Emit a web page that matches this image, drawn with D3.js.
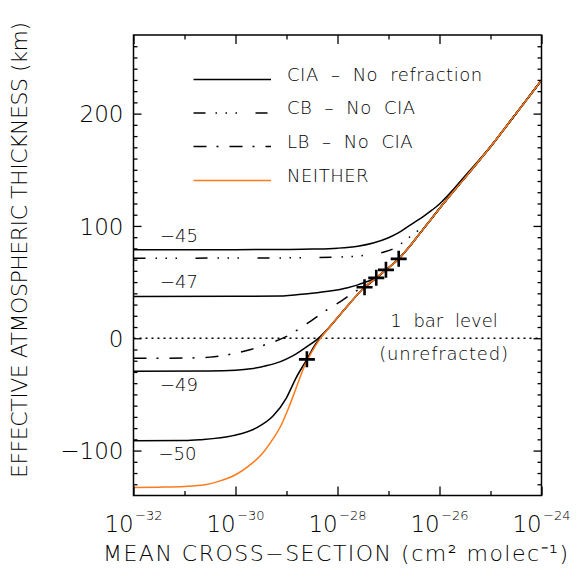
<!DOCTYPE html>
<html>
<head>
<meta charset="utf-8">
<script src="https://cdn.jsdelivr.net/npm/d3@7"></script>
<style>
    body { margin: 0; background: #fff; }
    svg { display: block; font-family: "DejaVu Sans", sans-serif; font-weight: 200; }
</style>
</head>
<body>
<svg id="chart" width="584" height="569"></svg>
<script>
// x values are log10 of the cross-section, y values in km
const NEITHER = [
    [-32, -132.8], [-31.5, -132.6], [-31, -132], [-30.6, -130.5], [-30.3, -127],
    [-30, -121.5], [-29.75, -114], [-29.5, -104], [-29.3, -92], [-29.1, -77],
    [-28.95, -61], [-28.8, -43], [-28.65, -25], [-28.5, -12], [-28.35, -1],
    [-28.2, 7.5], [-27.8, 29], [-27.47, 45.4], [-27.24, 53.8], [-27.05, 60.9],
    [-26.8, 70.7], [-26.6, 81], [-26.4, 92.5], [-26.2, 104], [-26, 115.5],
    [-25.5, 143], [-25, 170.5], [-24.5, 200], [-24, 229.7]
];

// CIA - no refraction, one curve per label
const CIA_45 = [
    [-32, 78.8], [-30, 78.9], [-29, 79.1], [-28.5, 79.4], [-28, 80.2], [-27.6, 82],
    [-27.3, 84.8], [-27, 89.5], [-26.8, 94], [-26.65, 98.5], [-26.5, 103], [-26.3, 109],
    [-26.15, 114], [-26, 119.5], [-25.85, 126.5], [-25.7, 134], [-25.5, 144.5]
];
const CIA_47 = [
    [-32, 37.2], [-30, 37.3], [-29.1, 37.6], [-28.8, 38.8], [-28.5, 40], [-28.15, 42],
    [-27.8, 45], [-27.6, 47.5], [-27.45, 50], [-27.3, 52.5]
];
const CIA_49 = [
    [-32, -29.4], [-30.5, -29.2], [-30, -28.5], [-29.7, -27.2], [-29.4, -24.5],
    [-29.13, -21], [-28.87, -15.5], [-28.6, -7.5], [-28.4, -1], [-28.25, 5.5]
];
const CIA_50 = [
    [-32, -91.2], [-31, -91], [-30.7, -90.3], [-30.05, -86.7], [-29.6, -80],
    [-29.26, -69], [-29, -53], [-28.81, -35], [-28.6, -18.8], [-28.45, -6.5], [-28.35, -0.5]
];

const CB_NOCIA = [
    [-32, 71.3], [-30, 71.4], [-29, 71.6], [-28.5, 71.9], [-28, 72.3], [-27.5, 73.6],
    [-27.1, 76.6], [-26.85, 81], [-26.65, 88], [-26.5, 93], [-26.35, 98.5], [-26.2, 104.5]
];
const LB_NOCIA = [
    [-32, -17.8], [-31, -17.6], [-30.5, -16.8], [-30.1, -14.3], [-29.7, -10],
    [-29.4, -5.5], [-29.05, 0.5], [-28.6, 13], [-28.2, 25.5], [-27.9, 34],
    [-27.6, 43], [-27.47, 45.4]
];

const MARKER_X = [-28.6, -27.47, -27.24, -27.05, -26.8];
const MARKER_Y = [-18.8, 45.4, 53.8, 60.9, 70.7];

const CURVE_LABELS = ["\u221245", "\u221247", "\u221249", "\u221250"];
const LEGEND_LABELS = ["CIA \u2013 No refraction", "CB \u2013 No CIA", "LB \u2013 No CIA", "NEITHER"];

const X_MAJOR = [-32, -30, -28, -26, -24];
const X_MINOR = [-31, -29, -27, -25];
const Y_MAJOR = [-100, 0, 100, 200];

const ORANGE = "#ff7a1a";
const DASH_CB = "12,10,1.5,8.5,1.5,8.5,1.5,18.5";
const DASH_LB = "13,10,2,11";

// layout
const plot = { left: 133.5, right: 541.5, top: 35, bottom: 495.5 };

const svg = d3.select("#chart");

const x = d3.scaleLog().domain([1e-32, 1e-24]).range([plot.left, plot.right]);
const y = d3.scaleLinear().domain([-140, 270]).range([plot.bottom, plot.top]);

// black curves continue under the orange one once they have joined it
function withTail(pts) {
    const last = pts[pts.length - 1][0];
    return pts.concat(NEITHER.filter(p => p[0] > last + 0.05));
}

const line = d3.line()
    .x(d => x(10 ** d[0]))
    .y(d => y(d[1]))
    .curve(d3.curveMonotoneX);

// 1 bar reference line
svg.append("line")
    .attr("x1", plot.left).attr("x2", plot.right)
    .attr("y1", y(0)).attr("y2", y(0))
    .attr("stroke", "#000").attr("stroke-width", 1.3)
    .attr("stroke-dasharray", "2,4");

const curves = svg.append("g").attr("fill", "none").attr("stroke-linejoin", "round");

[
    { pts: withTail(CB_NOCIA), dash: DASH_CB },
    { pts: withTail(LB_NOCIA), dash: DASH_LB },
    { pts: withTail(CIA_45), dash: null },
    { pts: withTail(CIA_47), dash: null },
    { pts: withTail(CIA_49), dash: null },
    { pts: withTail(CIA_50), dash: null }
].forEach(s => {
    curves.append("path")
        .attr("d", line(s.pts))
        .attr("stroke", "#000")
        .attr("stroke-width", 1.5)
        .attr("stroke-dasharray", s.dash);
});

curves.append("path")
    .attr("d", line(NEITHER))
    .attr("stroke", ORANGE)
    .attr("stroke-width", 1.5);

// plus markers
svg.append("g").selectAll("path")
    .data(MARKER_X.map((m, i) => [m, MARKER_Y[i]]))
    .join("path")
    .attr("transform", d => `translate(${x(10 ** d[0])},${y(d[1])})`)
    .attr("d", "M-8,0H8M0,-8V8")
    .attr("stroke", "#000")
    .attr("stroke-width", 2.6)
    .attr("fill", "none");

// curve labels
const labelPos = [[160, 241.7], [160, 288.3], [160, 390.5], [158.5, 460]];
svg.append("g").selectAll("text")
    .data(CURVE_LABELS)
    .join("text")
    .attr("x", (d, i) => labelPos[i][0])
    .attr("y", (d, i) => labelPos[i][1])
    .attr("font-size", 18)
    .text(d => d);

svg.append("text")
    .attr("x", 444).attr("y", 327.3)
    .attr("text-anchor", "middle")
    .attr("font-size", 18)
    .attr("word-spacing", 6)
    .text("1 bar level");
svg.append("text")
    .attr("x", 444).attr("y", 359.5)
    .attr("text-anchor", "middle")
    .attr("font-size", 18)
    .attr("letter-spacing", 0.8)
    .text("(unrefracted)");

// legend
const legendY = [79.5, 113, 146.5, 180.5];
const legendStyle = [
    { dash: null, color: "#000" },
    { dash: DASH_CB, color: "#000" },
    { dash: DASH_LB, color: "#000" },
    { dash: null, color: ORANGE }
];
const legend = svg.append("g");
LEGEND_LABELS.forEach((lab, i) => {
    legend.append("line")
        .attr("x1", 193.5).attr("x2", 271)
        .attr("y1", legendY[i]).attr("y2", legendY[i])
        .attr("stroke", legendStyle[i].color)
        .attr("stroke-width", 1.5)
        .attr("stroke-dasharray", legendStyle[i].dash);
    legend.append("text")
        .attr("x", 287).attr("y", legendY[i] + 1)
        .attr("font-size", 18)
        .attr("word-spacing", 6)
        .attr("letter-spacing", 0.5)
        .text(lab);
});

// axes: ticks point inward on all four sides
function styleAxis(g) {
    g.select(".domain").remove();
    g.selectAll(".tick line").attr("stroke", "#000").attr("stroke-width", 1.3);
}

const xMaj = X_MAJOR.map(e => 10 ** e);
const xMin = X_MINOR.map(e => 10 ** e);
const yMin = d3.range(-130, 270, 10).filter(v => !Y_MAJOR.includes(v));

svg.append("g").attr("transform", `translate(0,${plot.bottom})`)
    .call(d3.axisBottom(x).tickValues(xMaj).tickSize(-9).tickFormat(""))
    .call(styleAxis);
svg.append("g").attr("transform", `translate(0,${plot.bottom})`)
    .call(d3.axisBottom(x).tickValues(xMin).tickSize(-4.5).tickFormat(""))
    .call(styleAxis);
svg.append("g").attr("transform", `translate(0,${plot.top})`)
    .call(d3.axisTop(x).tickValues(xMaj).tickSize(-9).tickFormat(""))
    .call(styleAxis);
svg.append("g").attr("transform", `translate(0,${plot.top})`)
    .call(d3.axisTop(x).tickValues(xMin).tickSize(-4.5).tickFormat(""))
    .call(styleAxis);

svg.append("g").attr("transform", `translate(${plot.left},0)`)
    .call(d3.axisLeft(y).tickValues(Y_MAJOR).tickSize(-8).tickPadding(10))
    .call(styleAxis)
    .call(g => g.selectAll(".tick text")
        .attr("font-size", 23)
        .attr("font-family", "DejaVu Sans, sans-serif")
        .attr("font-weight", 200)
        .attr("fill", "#000")
        .attr("dy", "0.36em"));
svg.append("g").attr("transform", `translate(${plot.left},0)`)
    .call(d3.axisLeft(y).tickValues(yMin).tickSize(-4).tickFormat(""))
    .call(styleAxis);
svg.append("g").attr("transform", `translate(${plot.right},0)`)
    .call(d3.axisRight(y).tickValues(Y_MAJOR).tickSize(-8).tickFormat(""))
    .call(styleAxis);
svg.append("g").attr("transform", `translate(${plot.right},0)`)
    .call(d3.axisRight(y).tickValues(yMin).tickSize(-4).tickFormat(""))
    .call(styleAxis);

// frame
svg.append("rect")
    .attr("x", plot.left).attr("y", plot.top)
    .attr("width", plot.right - plot.left)
    .attr("height", plot.bottom - plot.top)
    .attr("fill", "none")
    .attr("stroke", "#000")
    .attr("stroke-width", 1.5);

// x tick labels with superscript exponents
X_MAJOR.forEach(e => {
    const t = svg.append("text")
        .attr("x", x(10 ** e))
        .attr("y", 531.7)
        .attr("text-anchor", "middle");
    t.append("tspan").attr("font-size", 23).text("10");
    t.append("tspan").attr("font-size", 13).attr("dx", 1.5).attr("dy", -11.7)
        .text("\u2212" + Math.abs(e));
});

// axis titles
svg.append("text")
    .attr("x", 335.5).attr("y", 561)
    .attr("text-anchor", "middle")
    .attr("font-size", 22)
    .attr("textLength", 465)
    .attr("lengthAdjust", "spacing")
    .text("MEAN CROSS\u2212SECTION (cm\u00b2 molec\u207b\u00b9)");

svg.append("text")
    .attr("transform", "translate(26.7,250) rotate(-90)")
    .attr("text-anchor", "middle")
    .attr("font-size", 22)
    .attr("textLength", 456)
    .attr("lengthAdjust", "spacing")
    .text("EFFECTIVE ATMOSPHERIC THICKNESS (km)");
</script>
</body>
</html>
